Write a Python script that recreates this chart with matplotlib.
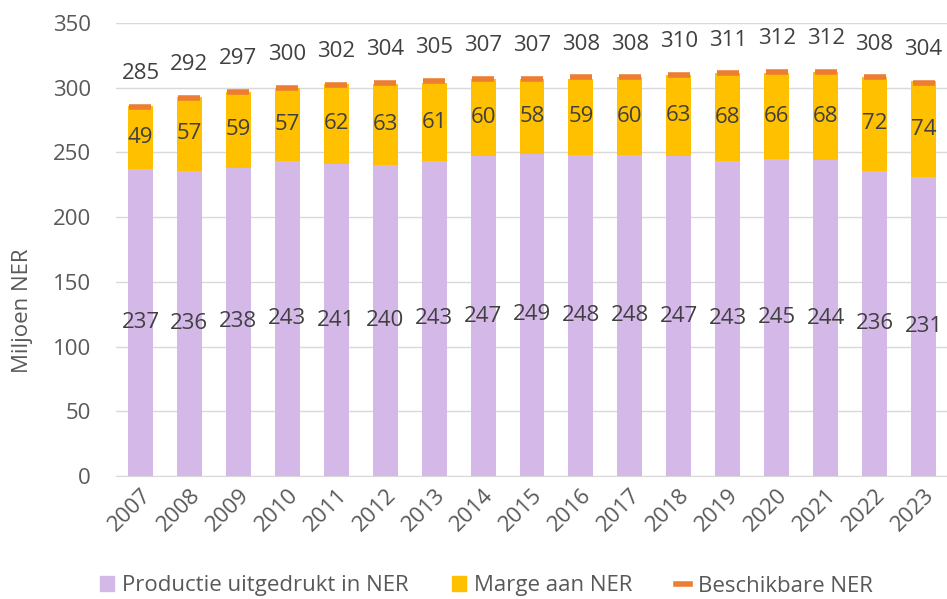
import numpy as np
import matplotlib.pyplot as plt
from matplotlib.lines import Line2D
from matplotlib.patches import Patch

years = ["2007", "2008", "2009", "2010", "2011", "2012", "2013", "2014", "2015",
         "2016", "2017", "2018", "2019", "2020", "2021", "2022", "2023"]
productie = [237, 236, 238, 243, 241, 240, 243, 247, 249, 248, 248, 247, 243, 245, 244, 236, 231]
marge = [49, 57, 59, 57, 62, 63, 61, 60, 58, 59, 60, 63, 68, 66, 68, 72, 74]
beschikbaar = [285, 292, 297, 300, 302, 304, 305, 307, 307, 308, 308, 310, 311, 312, 312, 308, 304]

c_prod = "#D3B8E8"
c_marge = "#FFC000"
c_besch = "#ED7D31"
txt = "#404040"
tick_c = "#595959"
fs = 16

plt.rcParams["font.family"] = ["Open Sans", "DejaVu Sans"]

fig = plt.figure(figsize=(9.47, 5.99), dpi=100)
ax = fig.add_axes([116 / 947, 1 - 476 / 599, 832 / 947, 453 / 599])

x = np.arange(len(years))
w = 0.51
ax.bar(x, productie, w, color=c_prod, zorder=2)
ax.bar(x, marge, w, bottom=productie, color=c_marge, zorder=2)
ax.plot(x, beschikbaar, linestyle="none", marker="_", markersize=16,
        markeredgewidth=4, color=c_besch, zorder=3)

# data labels
for i in range(len(years)):
    ax.text(x[i], productie[i] / 2, str(productie[i]), ha="center", va="center",
            fontsize=fs, color=txt, zorder=4)
    ax.text(x[i], productie[i] + marge[i] / 2, str(marge[i]), ha="center", va="center",
            fontsize=fs, color=txt, zorder=4)
    ax.annotate(str(beschikbaar[i]), (x[i], beschikbaar[i]), xytext=(0, 24),
                textcoords="offset points", ha="center", va="center",
                fontsize=fs, color=txt, zorder=4)

ax.set_xlim(-0.5, len(years) - 0.5)
ax.set_ylim(0, 350)
ax.set_yticks(range(0, 351, 50))
ax.grid(axis="y", color="#D9D9D9", linewidth=1, zorder=0)
ax.set_axisbelow(True)
for s in ["top", "right", "left"]:
    ax.spines[s].set_visible(False)
ax.spines["bottom"].set_color("#D9D9D9")
ax.tick_params(axis="both", length=0, colors=tick_c, labelsize=fs)
ax.tick_params(axis="y", pad=18)
ax.set_xticks(x)
ax.set_xticklabels(years, rotation=45, ha="right", va="top", rotation_mode="anchor")
ax.tick_params(axis="x", pad=6)
ax.set_ylabel("Miljoen NER", fontsize=fs, color=tick_c)
ax.yaxis.set_label_coords(-0.100, 0.364)

handles = [Patch(color=c_prod), Patch(color=c_marge),
           Line2D([], [], color=c_besch, linewidth=4)]
fig.legend(handles, ["Productie uitgedrukt in NER", "Marge aan NER", "Beschikbare NER"],
           loc="center", bbox_to_anchor=(0.514, 1 - 586 / 599), ncol=3, frameon=False,
           fontsize=fs, labelcolor=tick_c, handlelength=0.63, handleheight=0.63,
           handletextpad=0.36, columnspacing=1.95)

fig.savefig("out.png", dpi=100)
